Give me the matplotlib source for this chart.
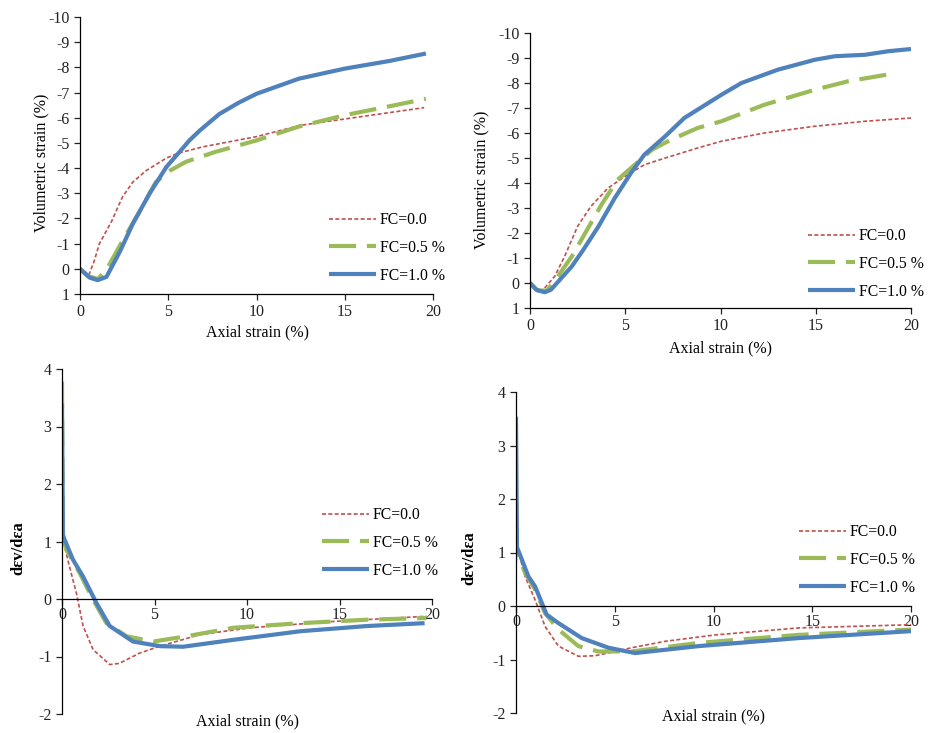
import numpy as np
import matplotlib
matplotlib.use("Agg")
import matplotlib.pyplot as plt

plt.rcParams["font.family"] = ["Liberation Serif", "DejaVu Serif"]
plt.rcParams["axes.unicode_minus"] = False

# ---------------------------------------------------------------------------
# Data (x = axial strain %, y = vol. strain % / dilatancy)
# ---------------------------------------------------------------------------

# Panel (a) : volumetric strain, left
a_fc00_x = [0.5, 0.8, 1.1, 1.8, 2.4, 3.0, 3.75, 4.9, 5.6, 7.0, 8.5, 10.0, 12.5, 15.0, 17.5, 19.5]
a_fc00_y = [0.25, -0.3, -1.0, -1.9, -2.85, -3.45, -3.9, -4.4, -4.6, -4.85, -5.05, -5.25, -5.7, -5.95, -6.2, -6.4]
a_fc05_x = [0.0, 0.5, 1.0, 1.45, 2.4, 3.4, 4.3, 5.1, 6.0, 7.7, 10.0, 12.4, 15.0, 17.5, 19.6]
a_fc05_y = [0.0, 0.3, 0.4, 0.1, -1.1, -2.3, -3.45, -3.9, -4.25, -4.65, -5.1, -5.65, -6.1, -6.45, -6.75]
a_fc10_x = [0.0, 0.3, 0.55, 1.0, 1.5, 2.25, 3.0, 3.95, 4.9, 5.65, 6.2, 6.8, 7.9, 9.0, 10.0, 11.2, 12.4,
            15.0, 17.5, 19.6]
a_fc10_y = [0.0, 0.2, 0.35, 0.45, 0.32, -0.67, -1.8, -3.0, -4.05, -4.65, -5.1, -5.5, -6.15, -6.6, -6.95,
            -7.25, -7.55, -7.95, -8.25, -8.55]

# Panel (b) : volumetric strain, right
b_fc00_x = [0.77, 1.3, 1.82, 2.5, 3.2, 4.1, 5.0, 6.0, 7.1, 8.8, 10.05, 12.3, 14.95, 17.6, 20.0]
b_fc00_y = [0.2, -0.27, -1.07, -2.27, -3.07, -3.8, -4.27, -4.73, -5.0, -5.4, -5.67, -6.0, -6.27, -6.47, -6.6]
b_fc05_x = [0.0, 0.4, 0.9, 1.47, 2.2, 2.9, 3.75, 4.6, 5.5, 6.4, 7.4, 8.8, 10.05, 12.3, 14.95, 16.7, 19.25]
b_fc05_y = [0.0, 0.3, 0.3, -0.27, -1.07, -2.0, -3.13, -4.13, -4.73, -5.33, -5.73, -6.2, -6.47, -7.13, -7.73, -8.07, -8.4]
b_fc10_x = [0.0, 0.33, 0.77, 1.1, 1.65, 2.2, 2.8, 3.6, 4.45, 5.3, 6.0, 7.1, 8.1, 10.05, 11.1, 13.0,
            14.95, 16.0, 17.6, 18.8, 20.0]
b_fc10_y = [0.0, 0.27, 0.37, 0.27, -0.2, -0.67, -1.33, -2.27, -3.4, -4.4, -5.13, -5.87, -6.6, -7.53,
            -8.0, -8.53, -8.93, -9.07, -9.13, -9.27, -9.36]

# Panel (c) : dilatancy, left
c_fc00_x = [0.0, 0.03, 0.15, 0.4, 0.78, 1.14, 1.68, 2.58, 3.1, 4.2, 5.3, 7.45, 10.2, 14.7, 19.7]
c_fc00_y = [3.85, 1.05, 0.9, 0.57, 0.1, -0.47, -0.88, -1.14, -1.12, -0.94, -0.82, -0.62, -0.5, -0.39, -0.3]
c_fc05_x = [0.0, 0.04, 0.23, 0.96, 1.68, 2.4, 3.5, 4.93, 6.7, 9.26, 12.9, 16.5, 19.7]
c_fc05_y = [3.78, 1.15, 0.86, 0.45, -0.01, -0.42, -0.65, -0.74, -0.65, -0.5, -0.42, -0.36, -0.33]
c_fc10_x = [0.0, 0.05, 0.6, 1.14, 1.86, 2.58, 3.84, 5.3, 6.55, 9.26, 12.9, 16.5, 19.6]
c_fc10_y = [3.4, 1.1, 0.68, 0.39, -0.07, -0.47, -0.74, -0.82, -0.83, -0.71, -0.56, -0.47, -0.42]

# Panel (d) : dilatancy, right
d_fc00_x = [0.0, 0.1, 0.46, 0.96, 1.47, 2.15, 3.16, 4.0, 5.0, 5.86, 7.55, 10.1, 14.3, 20.0]
d_fc00_y = [0.8, 1.05, 0.55, 0.12, -0.38, -0.75, -0.94, -0.93, -0.85, -0.78, -0.66, -0.54, -0.41, -0.35]
d_fc05_x = [0.0, 0.05, 0.46, 0.96, 1.47, 2.15, 3.16, 4.17, 5.86, 9.24, 14.3, 20.0]
d_fc05_y = [1.42, 1.0, 0.62, 0.31, -0.13, -0.44, -0.75, -0.85, -0.85, -0.69, -0.54, -0.44]
d_fc10_x = [0.0, 0.05, 0.2, 0.63, 0.96, 1.55, 2.15, 3.33, 4.68, 6.03, 9.24, 14.3, 20.0]
d_fc10_y = [3.54, 1.1, 0.96, 0.55, 0.37, -0.16, -0.32, -0.6, -0.78, -0.88, -0.75, -0.6, -0.47]

labels = ["FC=0.0", "FC=0.5 %", "FC=1.0 %"]
x_ticks = [0, 5, 10, 15, 20]

RED = "#C0504D"
GREEN = "#9BBB59"
BLUE = "#4F81BD"


def draw_series(ax, series):
    (x0, y0), (x5, y5), (x1, y1) = series
    ax.plot(x0, y0, color=RED, lw=1.2, linestyle=(0, (2.4, 1.4)), label=labels[0])
    ax.plot(x5, y5, color=GREEN, lw=3.0, linestyle=(0, (6.5, 2.6)), label=labels[1])
    ax.plot(x1, y1, color=BLUE, lw=3.0, solid_capstyle="butt", solid_joinstyle="round",
            label=labels[2])


def style_axes(ax):
    ax.spines["top"].set_visible(False)
    ax.spines["right"].set_visible(False)
    for s in ("left", "bottom"):
        ax.spines[s].set_linewidth(0.9)
    ax.tick_params(labelsize=11.5, length=4, width=0.9, colors="#222222")
    ax.set_xlim(0, 20)
    ax.set_xticks(x_ticks)
    ax.patch.set_alpha(0)


def add_legend(fig, ax, x_px, y_px):
    fig.legend(*ax.get_legend_handles_labels(), loc="upper left",
               bbox_to_anchor=(x_px / 930, 1 - y_px / 733), frameon=False,
               fontsize=11.3, borderpad=0, borderaxespad=0, handlelength=3.0,
               handletextpad=0.25, labelspacing=0.75)


fig = plt.figure(figsize=(9.3, 7.33), dpi=100)

# axes rectangles in pixels: left, right, top, bottom
rects = [(80, 433, 17, 294), (530, 911, 33, 308), (62, 432, 369, 714), (516, 911, 392, 713)]
axes = []
for l, r, t, b in rects:
    axes.append(fig.add_axes([l / 930, 1 - b / 733, (r - l) / 930, (b - t) / 733]))

# ---- volumetric strain panels
vol_panels = [
    [(a_fc00_x, a_fc00_y), (a_fc05_x, a_fc05_y), (a_fc10_x, a_fc10_y)],
    [(b_fc00_x, b_fc00_y), (b_fc05_x, b_fc05_y), (b_fc10_x, b_fc10_y)],
]
for ax, series in zip(axes[:2], vol_panels):
    draw_series(ax, series)
    style_axes(ax)
    ax.set_ylim(1, -10)
    ax.set_yticks(range(-10, 2))

# ---- dilatancy panels
dil_panels = [
    [(c_fc00_x, c_fc00_y), (c_fc05_x, c_fc05_y), (c_fc10_x, c_fc10_y)],
    [(d_fc00_x, d_fc00_y), (d_fc05_x, d_fc05_y), (d_fc10_x, d_fc10_y)],
]
for ax, series in zip(axes[2:], dil_panels):
    draw_series(ax, series)
    style_axes(ax)
    ax.set_ylim(-2, 4)
    ax.set_yticks(range(-2, 5))
    ax.spines["bottom"].set_position(("data", 0))
    ax.tick_params(axis="x", pad=2)

# axis labels placed like the original (pixel positions)
fig.text(41 / 930, 1 - 163 / 733, "Volumetric strain (%)", rotation=90,
         ha="center", va="center", fontsize=11.5)
fig.text(481 / 930, 1 - 180 / 733, "Volumetric strain (%)", rotation=90,
         ha="center", va="center", fontsize=11.5)
fig.text(18 / 930, 1 - 548 / 733, "dεv/dεa", rotation=90, ha="center",
         va="center", fontsize=12, fontweight="bold")
fig.text(469 / 930, 1 - 558 / 733, "dεv/dεa", rotation=90, ha="center",
         va="center", fontsize=12, fontweight="bold")
for x_px, y_px in [(257, 332), (720, 348), (247, 721), (713, 716)]:
    fig.text(x_px / 930, 1 - y_px / 733, "Axial strain (%)", ha="center",
             va="center", fontsize=11.5)

add_legend(fig, axes[0], 329, 212)
add_legend(fig, axes[1], 808, 228)
add_legend(fig, axes[2], 322, 507)
add_legend(fig, axes[3], 799, 524)

fig.savefig("out.png", dpi=100)
